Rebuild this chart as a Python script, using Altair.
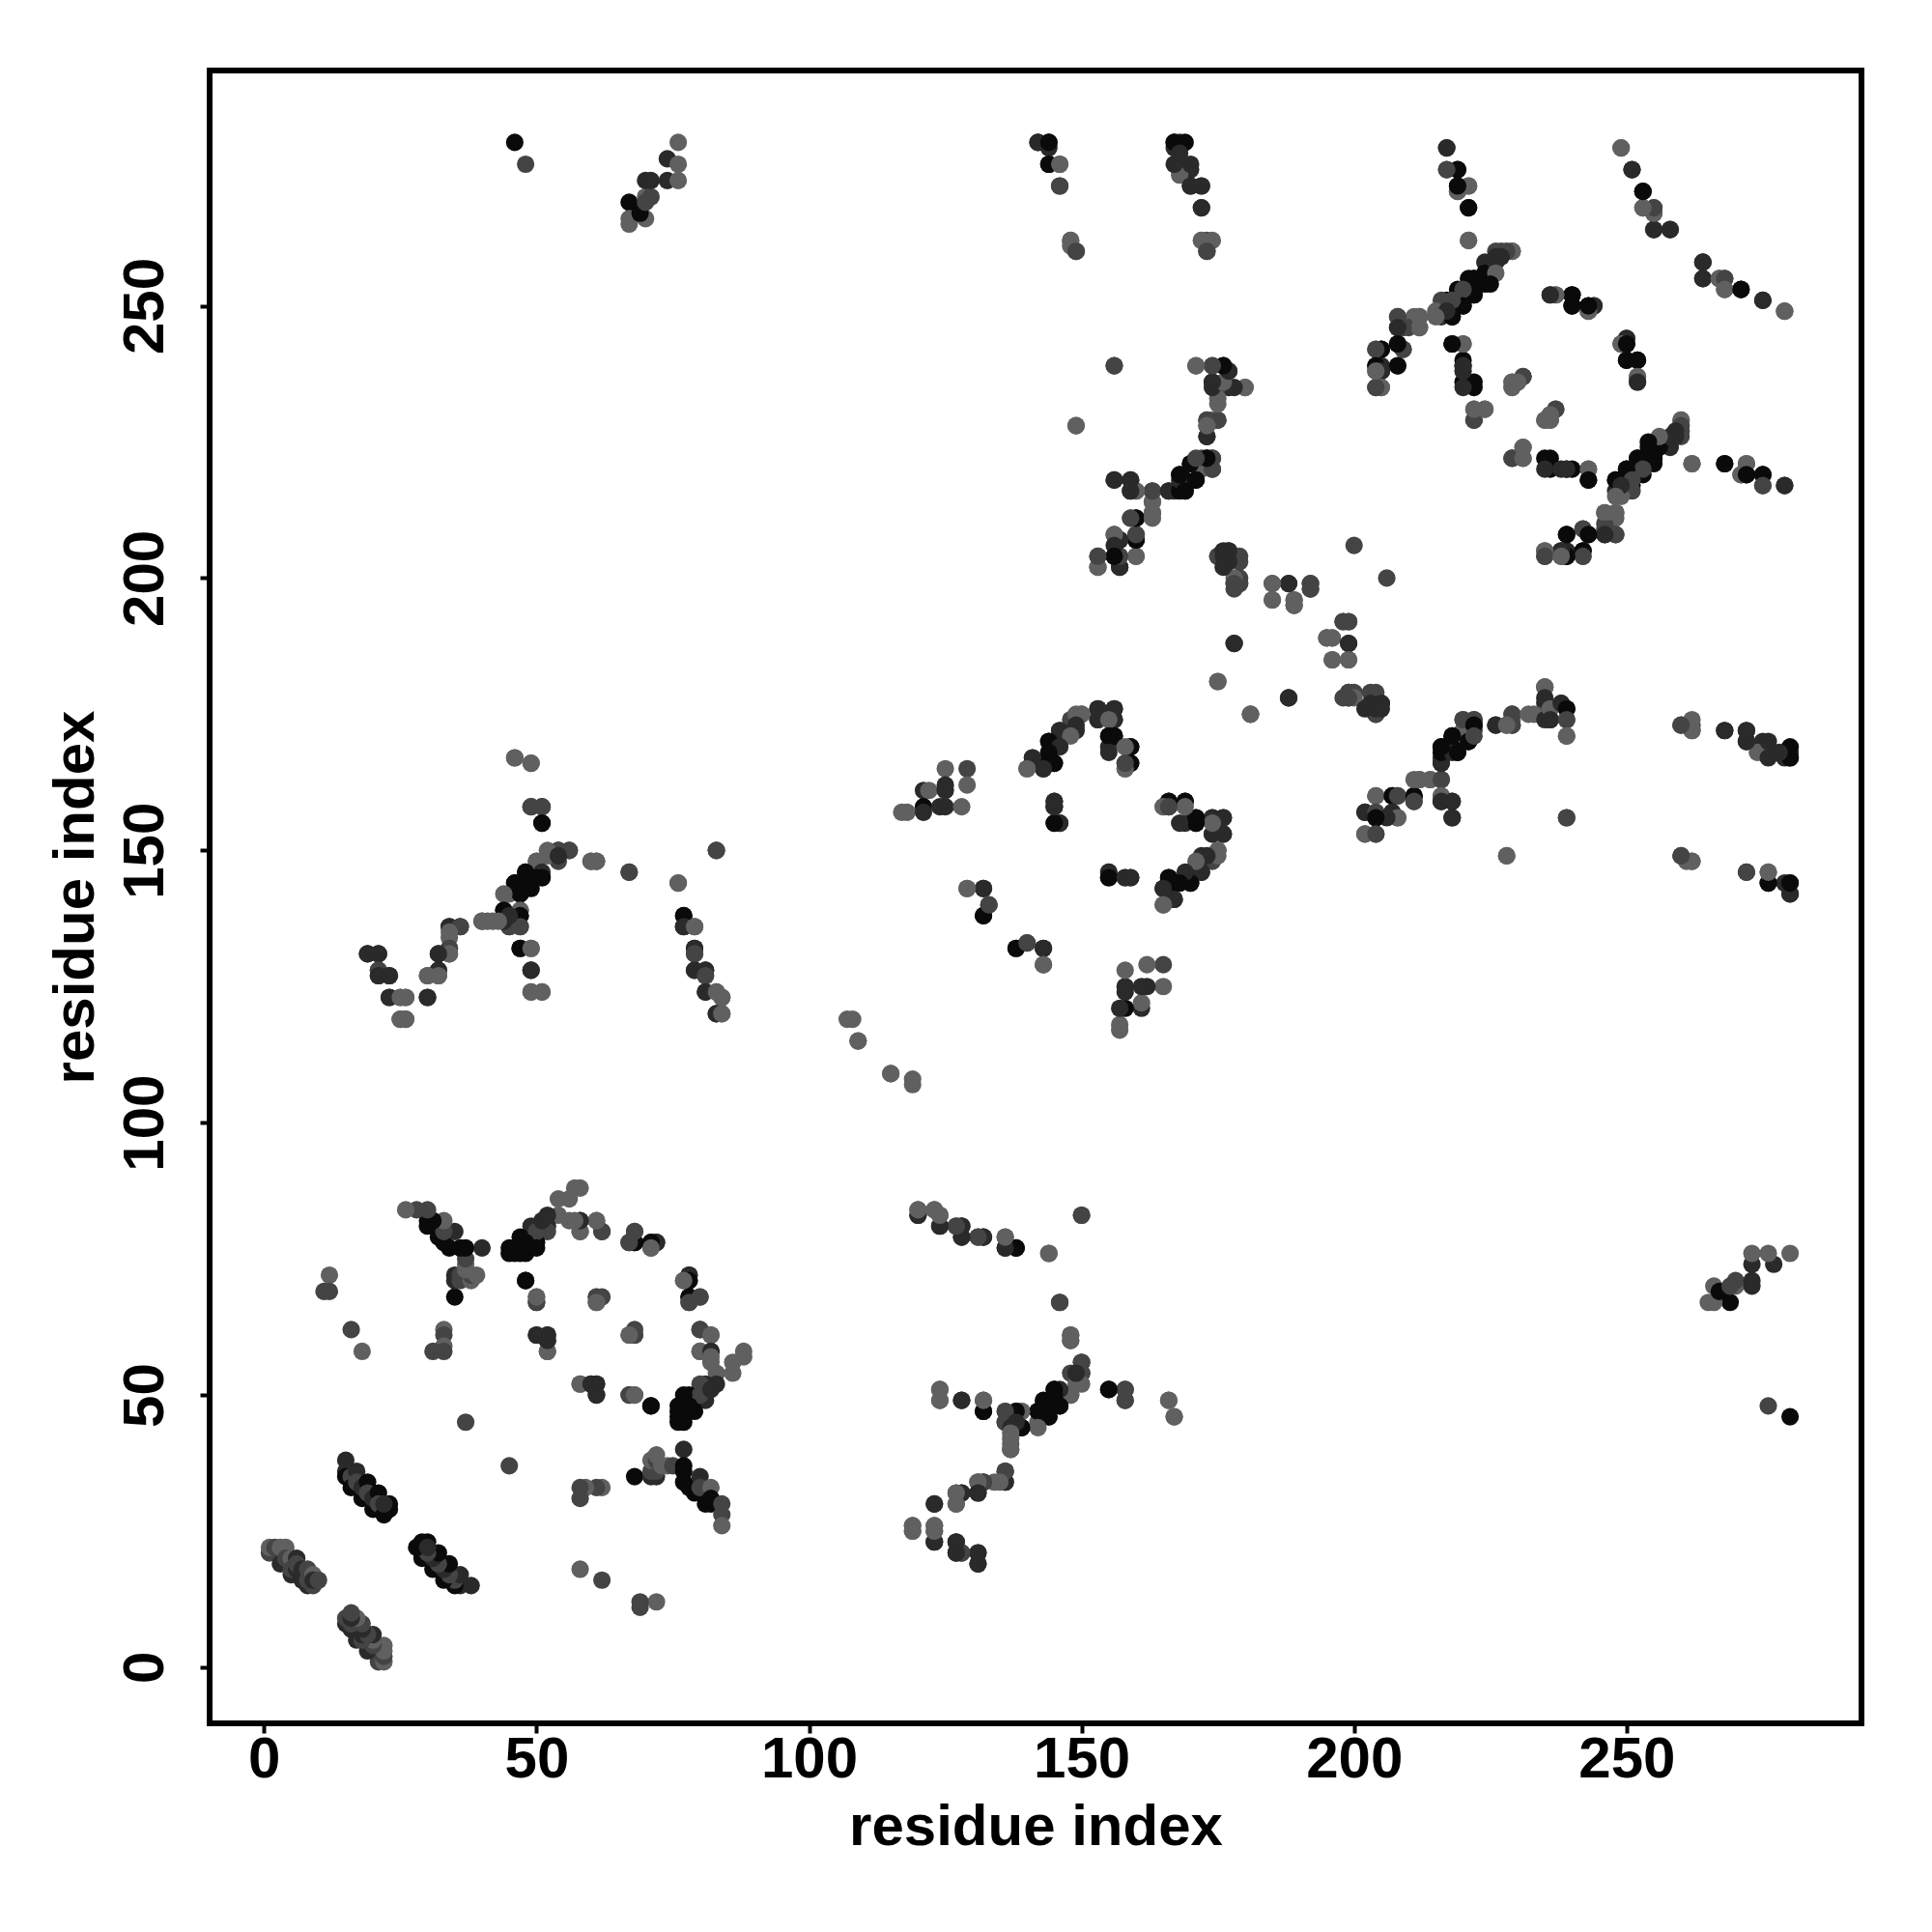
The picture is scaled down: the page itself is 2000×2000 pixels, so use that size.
import altair as alt
import pandas as pd

# (residue i, residue j, shade class) contacts; matrix is symmetric
c_strands = [(1,21,2),(1,22,1),(2,22,2),(3,22,1),(4,22,1),(3,19,3),(4,20,2),(5,20,1),(5,17,3),(5,18,2),(6,20,3),(6,18,3),(6,19,2),(7,16,3),(7,18,3),(8,18,2),(8,15,3),(8,16,2),(9,17,1),(9,15,2),(9,16,3),(10,16,2),
 (15,38,3),(15,36,3),(15,35,4),(16,35,2),(16,33,4),(17,36,3),(17,34,2),(18,31,4),(18,33,3),(19,34,4),(19,32,2),(20,29,4),(20,31,3),(21,32,4),(21,30,2),(22,28,4),(23,30,4),(23,29,4),(22,30,3)]
c_x1 = [(35,68,4),(35,71,3),(35,72,3),(36,71,2),(36,72,2),(37,72,2),(38,71,1),(38,72,2),(39,72,1),(37,73,1),(37,74,1),(37,75,2),(40,77,3),(37,77,4),(36,77,4),(34,77,4),(32,79,4),(33,78,4),(35,80,3),(33,80,2),(30,81,4),(33,82,1),(30,82,4),(31,82,4),(30,84,2),(28,84,2),(26,84,1),
 (33,62,1),(33,61,2),(33,59,1),(33,58,2),(31,58,2),(12,72,1),(11,69,2),(12,69,2),(16,62,2),(18,58,1),(37,45,2)]
c_x2 = [(58,88,1),(57,88,1),(56,86,1),(54,86,1),(54,83,1),(52,83,3),(52,81,3),(52,80,2),(50,78,4),(49,81,3),(50,80,2),(51,82,3),(49,78,2),(48,78,4),(47,79,4),(48,76,4),(47,76,4),(45,76,4),(46,76,4),(45,77,4),(46,77,4),(50,77,4),
 (48,71,4),(50,68,1),(50,67,2),(50,61,3),(52,61,3),(52,60,3),(52,58,1),
 (58,82,3),(56,82,1),(61,82,1),(58,80,1),(62,80,2),(68,80,1),(67,78,2),(68,78,4),(71,77,1),(71,78,3),(72,78,3),
 (62,68,2),(61,67,1),(61,68,1),(68,61,2),(67,61,1),(61,52,3),(58,52,1),(60,52,3),(61,50,3),(67,50,2),(68,50,1),(71,48,4),
 (78,72,3),(78,71,4),(77,71,1),(78,68,4),(80,68,2),(78,67,2),(80,62,2),(82,61,1),(80,58,1),(82,58,3),(82,57,1)]
c_far = [(120,84,1),(120,83,3),(123,84,1),(124,83,1),(124,81,3),(127,81,1),(128,81,3),(128,79,3),(131,79,1),(132,79,3),(136,79,1),(136,77,3),(138,77,4),(144,76,1),(150,83,2),
 (146,67,2),(148,61,2),(148,60,1),(150,56,2),(150,54,4),(148,54,2),(149,52,1),(148,50,2),(145,51,4),(146,48,4),(147,50,4),(143,49,4),(144,46,4),(142,47,4),(142,45,1),(139,47,1),(138,47,4),(136,47,1),(136,45,2),(139,44,4),(137,44,3),(137,41,1),(137,40,2),
 (136,36,3),(136,34,3),(134,34,1),(132,34,2),(131,34,2),(131,32,3),(128,32,2),(127,32,1),(127,30,1),(123,30,3),(119,25,1),(119,26,1),(123,26,1),(123,25,1),(123,23,3),(127,23,3),(127,21,3),(128,21,1),(131,21,3),(131,19,3),
 (124,51,1),(124,49,1),(128,49,3),(132,49,1),(132,47,4),(155,51,4),(158,51,2),(158,49,2),(166,49,1),(167,46,1)]
c_arm = [(46,167,1),(49,166,1),(49,158,2),(51,158,2),(51,155,4),(56,150,2),(54,150,2),(52,150,1),(54,149,3),(50,148,1),(51,146,3),(51,145,4),(48,146,4),(49,144,4),(46,144,4),(47,142,4),(44,142,1),(48,143,4),(50,145,4),
 (44,139,4),(47,139,1),(47,138,4),(47,136,2),(45,136,2),(44,137,3),(45,138,3),(40,137,1),(42,137,1),(43,137,1),(34,136,3),(36,136,2),(34,135,1),(34,132,2),(34,131,1),(32,131,3),(32,128,3),(32,127,1),(30,127,1),(30,123,3),
 (47,132,4),(49,132,1),(49,128,3),(49,124,1),(51,124,1),(19,131,3),(21,131,3),(21,128,2),(21,127,3),(23,127,3),(23,123,3),(25,123,1),(26,123,1),(25,119,1),(26,119,1),
 (60,148,1),(61,148,1),(67,146,2),(83,150,2),(76,144,1),(77,138,4),(77,136,3),(79,136,1),(79,132,3),(79,131,2),(79,128,3),(81,128,3),(81,127,2),(81,124,3),(83,124,1),(84,123,1),(83,120,3),(84,120,1)]
c_mid = [(107,119,1),(108,119,1),(109,115,1),(115,109,1),
 (125,165,1),(129,165,2),(129,162,1),(121,161,3),(122,161,1),(125,162,3),(125,161,3),(117,157,1),(118,157,1),(121,158,4),(121,157,3),(124,158,3),(125,158,3),(128,158,1),
 (129,143,1),(132,143,3),(133,140,2),(132,138,4),(138,132,4),(140,133,2),(143,132,3),(143,129,1),(145,159,3),(145,158,3),(145,155,4),(146,155,3),(155,146,3),(155,145,4),(158,145,3),(159,145,3),
 (166,159,4),(165,158,1),(166,158,3),(169,159,4),(169,155,3),(171,156,4),(171,155,4),(174,156,3),(176,156,3),(174,153,3),(176,153,3),(175,150,1),(174,148,2),(172,149,3),(171,147,1),(172,146,3),(170,146,4),(170,144,4),(168,144,4),(166,145,4),(165,143,4),(166,142,4),(167,141,3),(165,140,1),
 (156,176,3),(153,176,3),(150,175,1),(149,175,1),(149,173,3),(146,172,3),(148,171,1),(144,170,4),(146,169,3),(144,168,4),(141,167,3),(145,166,4),(143,165,3),(140,165,1),(153,174,3),(156,174,3),(155,174,1),(155,171,4),(155,168,3),(156,171,4),(159,169,4),(158,169,1),(159,166,4),(158,165,1),(158,166,2)]
c_upper = [(156,239,2),(149,228,1),(171,239,1),(174,239,2),(176,239,4),(177,238,3),(180,235,1),(177,235,3),(175,235,2),(174,236,2),(175,233,1),(173,229,2),(175,229,2),(174,229,1),(173,228,1),(173,226,3),
 (174,222,2),(174,220,2),(173,222,4),(172,222,2),(170,221,4),(172,220,1),(168,219,3),(171,218,4),(169,218,4),(166,216,3),(169,216,3),(167,216,3),(163,216,2),(163,214,1),(163,212,1),(160,216,1),(159,216,4),(159,218,3),(156,218,3),
 (160,211,4),(159,211,1),(160,208,2),(160,207,4),(157,207,3),(156,208,1),(160,204,1),(157,204,2),(156,204,3),(153,204,2),(153,202,1),(157,202,3),
 (175,204,2),(177,205,3),(176,203,3),(179,204,2),(178,199,3),(179,200,2),(179,199,2),(178,188,3),(175,181,1),
 (185,199,1),(188,199,3),(192,199,2),(192,198,2),(185,196,1),(189,196,1),(189,195,2),(198,192,2),(199,192,2),(195,189,1),(196,189,1),(199,188,3),(196,185,1),(199,185,1),(200,206,2),
 (198,178,2),(199,179,2),(200,178,1),(199,178,2),(181,175,1),(188,178,3)]
c_lower = [(203,179,2),(203,177,3),(205,177,3),(204,175,2),(202,176,3),(204,176,3),(205,176,3),
 (204,160,1),(207,160,4),(208,160,2),(211,160,4),(211,159,2),(202,157,3),(204,157,2),(207,157,3),(208,156,1),(206,156,3),(204,156,4),(202,153,1),(204,153,2),
 (211,163,1),(212,163,1),(214,163,1),(216,163,2),(216,160,1),(216,159,3),(218,159,3),(218,156,3),
 (216,166,3),(216,168,4),(218,168,3),(216,169,4),(218,171,4),(219,168,4),(221,170,4),(220,174,2),(222,174,2),(222,173,4),(222,171,2),(226,173,3),(229,175,2),(229,173,2),(228,173,1),(232,175,1),(235,180,1),
 (235,178,3),(235,174,3),(236,176,1),(236,174,3),(238,177,3),(239,176,4),(239,174,2),(239,171,1),(239,156,2),(228,149,1),
 (260,173,2),(262,173,2),(262,172,1),(268,172,3),(272,172,2),(272,170,4),(275,170,3),(275,168,3),(274,168,1),(279,168,3),(280,168,3),(280,167,3),(279,167,3),
 (260,149,2),(262,148,1),(261,148,1),(272,146,3),(276,146,1),(276,144,4),(280,144,3),(279,144,3),(280,142,3)]
c_top = [(217,279,3),(217,275,1),(219,275,4),(219,272,3),(221,272,1),(219,271,1),(221,268,3),(221,262,1),(249,279,1),(251,275,3),(253,271,4),(253,268,1),(255,268,2),(255,267,2),(255,264,3),(258,264,3),
 (264,258,3),(264,255,3),(267,255,1),(268,255,2),(268,253,1),(271,253,4),(275,251,3),(279,249,1),
 (229,260,1),(227,260,2),(226,260,2),(225,258,2),(224,258,3),(226,259,3),(225,256,2),(224,256,4),(221,255,4),(222,255,4),(224,254,4),(219,253,4),(222,252,4),(220,252,2),(217,251,4),(220,250,4),(217,250,4),(218,248,4),(216,251,2),(216,248,3),(215,249,1),(212,248,1),(212,246,1),(211,248,1),(208,248,2),(208,246,3),(210,246,2),
 (208,243,4),(209,242,2),(205,242,4),(204,242,1),(205,239,3),(208,239,3),(204,239,4),(204,238,1),(205,238,4),(204,235,2),(205,235,1),
 (218,243,4),(220,243,1),(220,240,4),(220,239,4),(220,236,4),(222,236,4),(222,231,1),(224,231,1),(222,229,3),(229,236,1),(229,235,1),(231,237,2),(230,236,1),(235,229,1),(236,229,1),(237,231,2),(236,230,1),(229,222,2),(231,224,1),(231,222,1),
 (235,222,4),(235,220,3),(238,220,3),(239,220,3),(243,220,1),(243,218,4),(237,252,1),(236,252,2),(240,252,4),(240,250,4),(243,249,1),(243,250,4),(244,250,3),(250,244,3),(249,243,1),(250,243,4),(250,240,4),(252,240,4),(252,237,1),(252,236,3),
 (260,229,1),(260,228,2),(259,227,3),(258,226,3),(256,226,1),(254,225,4),(255,222,4),(252,222,4),(253,220,2),(250,220,4),(251,218,2),(248,218,4),(249,217,3),(248,215,1),(246,212,1),(248,212,1),(246,209,2),(248,208,2),(246,208,3),(242,209,2),(243,208,4),(239,208,4),(242,205,4),(242,204,2),(239,204,4),(238,205,3),(235,205,1),(235,204,2),(238,204,1),
 (262,221,1),(268,221,4),(272,221,1),(271,219,1),(272,219,4),(275,219,4),(275,217,2),(279,217,3)]
c_corner = [(46,280,4),(48,276,2),(67,269,4),(67,266,1),(67,265,1),(70,266,1),(70,270,1),(71,270,2),(70,273,3),(71,273,3),(74,273,3),(76,273,1),(74,277,3),(76,276,1),(76,280,1),(69,267,4),(70,269,2),
 (142,280,3),(144,280,4),(144,276,4),(146,276,1),(146,272,2),(148,262,1),(149,260,2),(167,280,4),(169,280,4),(167,276,3),(170,276,3),(170,272,3),(172,272,3),(172,268,3),(172,262,1),(174,262,1),(173,260,2),(168,278,3)]

shades = [1, 2, 3, 4]
greys = ["#606060", "#444444", "#2a2a2a", "#0a0a0a"]
x_ticks = [0, 50, 100, 150, 200, 250]

rows = []
for group in (c_strands, c_x1, c_x2, c_far, c_arm, c_mid, c_upper, c_lower, c_top, c_corner):
    for i, j, s in group:
        rows.append({"x": i, "y": j, "s": s})
        rows.append({"x": j, "y": i, "s": s})
df = pd.DataFrame(rows)

lab = dict(labelFont="Liberation Sans", labelFontWeight="bold", labelFontSize=60, labelColor="black",
           titleFont="Liberation Sans", titleFontWeight="bold", titleFontSize=60, titleColor="black",
           tickColor="black", tickWidth=4, tickSize=10, domain=False, grid=False, values=x_ticks)

chart = alt.Chart(df).mark_circle(size=330, opacity=1).encode(
    x=alt.X("x:Q", scale=alt.Scale(domain=[-9.98, 293.1], nice=False, zero=False),
            axis=alt.Axis(title="residue index", labelPadding=-2, titlePadding=11, **lab)),
    y=alt.Y("y:Q", scale=alt.Scale(domain=[-10.3, 293.2], nice=False, zero=False),
            axis=alt.Axis(title="residue index", labelAngle=270, labelAlign="center", labelBaseline="bottom",
                          labelPadding=26, titlePadding=11, **lab)),
    color=alt.Color("s:O", scale=alt.Scale(domain=shades, range=greys), legend=None),
).properties(width=1710, height=1711, padding={"left": 40, "top": 65, "right": 5, "bottom": 5}, background="white"
).configure_view(stroke="black", strokeWidth=6, fill="white")

chart.save("out.html", embed_options={"renderer": "svg", "actions": False})
